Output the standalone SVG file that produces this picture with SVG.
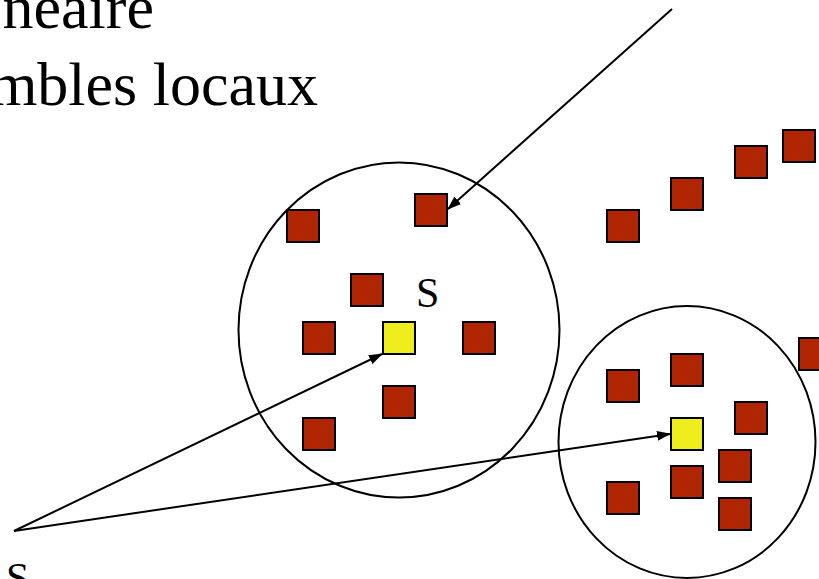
<svg xmlns="http://www.w3.org/2000/svg" width="819" height="579" viewBox="0 0 819 579">
<style>
.r{fill:#B02602;stroke:#000;stroke-width:2}
.y{fill:#EEEE1E;stroke:#000;stroke-width:2}
.c{fill:none;stroke:#000;stroke-width:2}
.l{fill:none;stroke:#000;stroke-width:2}
</style>
<defs>
<marker id="ah" markerWidth="14" markerHeight="10" refX="13" refY="5" orient="auto" markerUnits="userSpaceOnUse">
<path d="M0,0 L14,5 L0,10 Z" fill="#000"/>
</marker>
</defs>
<rect width="819" height="579" fill="#fff"/>
<g id="title" font-family="'Liberation Serif', 'Times New Roman', serif" fill="#000">
<text x="154" y="28" font-size="62" text-anchor="end">neaire</text>
<text x="318" y="105" font-size="62" text-anchor="end">mbles locaux</text>
</g>
<g id="circle1"><ellipse class="c" cx="399" cy="330" rx="160.5" ry="167.5"/></g>
<g id="circle2"><ellipse class="c" cx="687" cy="442" rx="128.5" ry="136"/></g>
<g id="points">
<rect class="r" x="287" y="210" width="32" height="32"/>
<rect class="r" x="415" y="194" width="32" height="32"/>
<rect class="r" x="351" y="274" width="32" height="32"/>
<rect class="r" x="303" y="322" width="32" height="32"/>
<rect class="r" x="463" y="322" width="32" height="32"/>
<rect class="r" x="383" y="386" width="32" height="32"/>
<rect class="r" x="303" y="418" width="32" height="32"/>
<rect class="r" x="607" y="210" width="32" height="32"/>
<rect class="r" x="671" y="178" width="32" height="32"/>
<rect class="r" x="735" y="146" width="32" height="32"/>
<rect class="r" x="783" y="130" width="32" height="32"/>
<rect class="r" x="799" y="338" width="32" height="32"/>
<rect class="r" x="607" y="370" width="32" height="32"/>
<rect class="r" x="671" y="354" width="32" height="32"/>
<rect class="r" x="735" y="402" width="32" height="32"/>
<rect class="r" x="719" y="450" width="32" height="32"/>
<rect class="r" x="671" y="466" width="32" height="32"/>
<rect class="r" x="607" y="482" width="32" height="32"/>
<rect class="r" x="719" y="498" width="32" height="32"/>
</g>
<g id="s1"><rect class="y" x="383" y="322" width="32" height="32"/></g>
<g id="s2"><rect class="y" x="671" y="418" width="32" height="32"/></g>
<g id="labels" font-family="'Liberation Serif', 'Times New Roman', serif" fill="#000">
<text x="416" y="307" font-size="42">S</text>
<text x="6" y="592" font-size="42">S</text>
</g>
<g id="connectors">
<line class="l" x1="672" y1="9" x2="448" y2="209" marker-end="url(#ah)"/>
<line class="l" x1="14" y1="531" x2="382" y2="354" marker-end="url(#ah)"/>
<line class="l" x1="14" y1="531" x2="670" y2="434" marker-end="url(#ah)"/>
</g>
</svg>
